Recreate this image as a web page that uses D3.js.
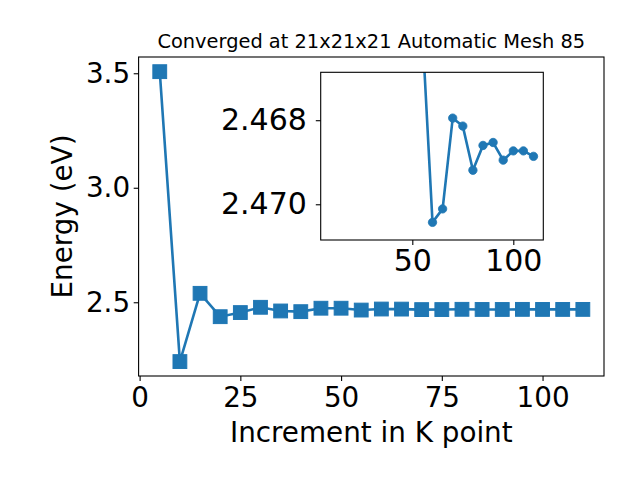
<!DOCTYPE html>
<html>
<head>
<meta charset="utf-8">
<script src="https://cdn.jsdelivr.net/npm/d3@7"></script>
<style>
  body { margin: 0; background: #fff; }
  svg, svg text { font-family: "DejaVu Sans", sans-serif; }
</style>
</head>
<body>
<div id="chart"></div>
<script>
// k-point increments and converged energies (eV)
var kPoints = [5, 10, 15, 20, 25, 30, 35, 40, 45, 50, 55, 60, 65, 70, 75, 80, 85, 90, 95, 100, 105, 110];
var energy = [3.507, 2.241, 2.539, 2.437, 2.455, 2.478, 2.462, 2.459, 2.474, 2.474, 2.4659,
  2.47043, 2.47011, 2.46795, 2.46814, 2.46919, 2.4686, 2.46853, 2.46895, 2.46873, 2.46873, 2.46886];
var xTicks = [0, 25, 50, 75, 100];
var yTicks = [2.5, 3.0, 3.5];
var insetXTicks = [50, 100];
var insetYTicks = [2.468, 2.470];
var insetStart = 10; // inset shows from 55 onwards

var blue = "#1f77b4";
var W = 640, H = 480;
var svg = d3.select("#chart").append("svg").attr("width", W).attr("height", H);

var data = kPoints.map(function(k, i) { return { k: k, e: energy[i] }; });

var x = d3.scaleLinear().domain([-0.25, 115.25]).range([138.6, 604]);
var y = d3.scaleLinear().domain([2.178, 3.571]).range([376, 57]);

function styleAxis(g, fs) {
  g.attr("font-family", null);
  g.selectAll("path.domain").remove();
  g.selectAll(".tick line").attr("stroke", "#000").attr("stroke-width", 1.1);
  g.selectAll(".tick text").attr("fill", "#000").style("font-size", fs + "px");
}

// main axes
svg.append("g").attr("transform", "translate(0,376)")
  .call(d3.axisBottom(x).tickValues(xTicks).tickSize(4.9).tickPadding(6.1).tickFormat(d3.format("d")))
  .call(styleAxis, 27.8);
svg.append("g").attr("transform", "translate(138.6,0)")
  .call(d3.axisLeft(y).tickValues(yTicks).tickSize(4.9).tickPadding(3.6).tickFormat(d3.format(".1f")))
  .call(styleAxis, 27.8);

var line = d3.line().x(function(d) { return x(d.k); }).y(function(d) { return y(d.e); });
svg.append("path").datum(data).attr("d", line)
  .attr("fill", "none").attr("stroke", blue).attr("stroke-width", 2.6);
svg.append("g").selectAll("rect").data(data).join("rect")
  .attr("x", function(d) { return x(d.k) - 6.9; })
  .attr("y", function(d) { return y(d.e) - 6.9; })
  .attr("width", 13.8).attr("height", 13.8)
  .attr("fill", blue).attr("stroke", blue).attr("stroke-width", 1);

svg.append("rect").attr("x", 138.6).attr("y", 57).attr("width", 604 - 138.6).attr("height", 376 - 57)
  .attr("fill", "none").attr("stroke", "#000").attr("stroke-width", 1.1);

svg.append("text").attr("x", 371.3).attr("y", 48.3).attr("text-anchor", "middle")
  .style("font-size", "19.4px").text("Converged at 21x21x21 Automatic Mesh 85");
svg.append("text").attr("x", 371.3).attr("y", 441.7).attr("text-anchor", "middle")
  .style("font-size", "27.8px").text("Increment in K point");
svg.append("text").attr("transform", "translate(71.5,216.5) rotate(-90)").attr("text-anchor", "middle")
  .style("font-size", "27.8px").text("Energy (eV)");

// inset
var ix = d3.scaleLinear().domain([4.65, 114.85]).range([320.7, 543.3]);
var iy = d3.scaleLinear().domain([2.46686, 2.47085]).range([72.3, 240]);

svg.append("rect").attr("x", 320.7).attr("y", 72.3).attr("width", 543.3 - 320.7).attr("height", 240 - 72.3)
  .attr("fill", "#fff");
svg.append("clipPath").attr("id", "insetClip").append("rect")
  .attr("x", 320.7).attr("y", 72.3).attr("width", 543.3 - 320.7).attr("height", 240 - 72.3);

var insetData = data.slice(insetStart);
var iline = d3.line().x(function(d) { return ix(d.k); }).y(function(d) { return iy(d.e); });
var ig = svg.append("g").attr("clip-path", "url(#insetClip)");
ig.append("path").datum(insetData).attr("d", iline)
  .attr("fill", "none").attr("stroke", blue).attr("stroke-width", 2.6);
ig.selectAll("circle").data(insetData).join("circle")
  .attr("cx", function(d) { return ix(d.k); })
  .attr("cy", function(d) { return iy(d.e); })
  .attr("r", 4.2).attr("fill", blue).attr("stroke", blue).attr("stroke-width", 0.8);

svg.append("g").attr("transform", "translate(0,240)")
  .call(d3.axisBottom(ix).tickValues(insetXTicks).tickSize(4.9).tickPadding(4.8).tickFormat(d3.format("d")))
  .call(styleAxis, 30);
svg.append("g").attr("transform", "translate(320.7,0)")
  .call(d3.axisLeft(iy).tickValues(insetYTicks).tickSize(4.9).tickPadding(9).tickFormat(d3.format(".3f")))
  .call(styleAxis, 30);

svg.append("rect").attr("x", 320.7).attr("y", 72.3).attr("width", 543.3 - 320.7).attr("height", 240 - 72.3)
  .attr("fill", "none").attr("stroke", "#000").attr("stroke-width", 1.1);
</script>
</body>
</html>
